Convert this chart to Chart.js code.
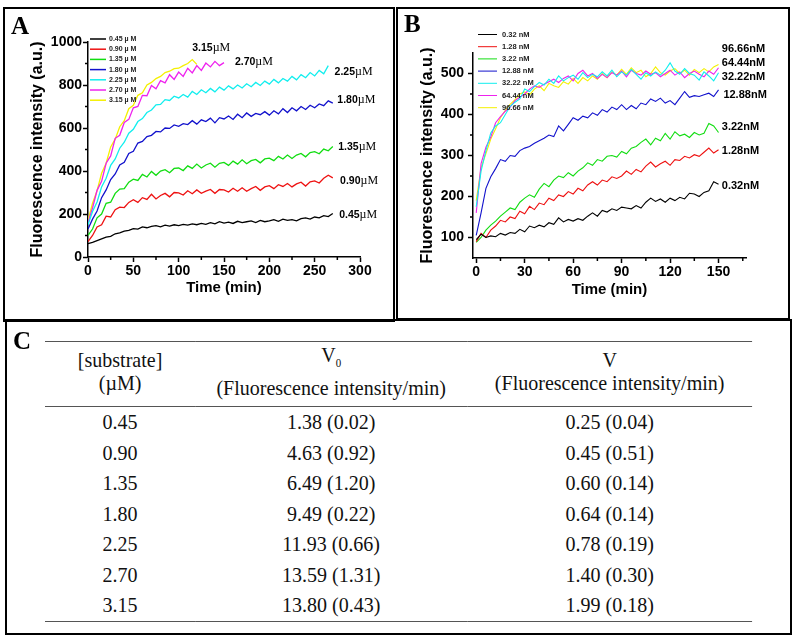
<!DOCTYPE html>
<html>
<head>
<meta charset="utf-8">
<script src="https://cdn.jsdelivr.net/npm/chart.js@4.4.1/dist/chart.umd.min.js"></script>
<style>
body { margin: 0; background: #fff; width: 794px; height: 639px; position: relative; overflow: hidden; font-family: 'Liberation Serif', 'Times New Roman', serif; }
.box { position: absolute; border: 2px solid #000; box-sizing: border-box; }
#boxA { left: 3px; top: 7px; width: 392px; height: 315px; }
#boxB { left: 396px; top: 7px; width: 394px; height: 313px; }
#boxC { left: 5px; top: 319px; width: 787px; height: 316px; }
.tag { position: absolute; font: bold 25px 'Liberation Serif', serif; line-height: 25px; }
canvas { position: absolute; }
#chartA { left: 5px; top: 10px; }
#chartB { left: 399px; top: 10px; }
#tbl { position: absolute; left: 45px; top: 341px; width: 777px; transform: scaleX(0.91); transform-origin: 0 0;
       border-collapse: collapse; font-size: 22px; color: #111;
       border-top: 1.5px solid #555; border-bottom: 1.5px solid #555; }
#tbl th { font-weight: normal; height: 64px; padding: 0; line-height: 23px; border-bottom: 1.5px solid #555; vertical-align: middle; }
#tbl th div { position: relative; top: -3px; }
#tbl td { height: 30.5px; padding: 0; line-height: 30.5px; text-align: center; }
#tbl sub { font-size: 12px; }
</style>
</head>
<body>
<div class="box" id="boxA"></div>
<div class="box" id="boxB"></div>
<div class="box" id="boxC"></div>
<canvas id="chartA" width="388" height="308"></canvas>
<canvas id="chartB" width="389" height="308"></canvas>
<div class="tag" style="left:11px; top:13px;">A</div>
<div class="tag" style="left:404px; top:11px;">B</div>
<div class="tag" style="left:13px; top:328px;">C</div>

<table id="tbl">
  <colgroup><col style="width:165px"><col style="width:299px"><col></colgroup>
  <thead>
    <tr>
      <th><div>[substrate]<br>(µM)</div></th>
      <th><div>V<sub>0</sub><br>(Fluorescence intensity/min)</div></th>
      <th><div>V<br>(Fluorescence intensity/min)</div></th>
    </tr>
  </thead>
  <tbody id="tbody"></tbody>
</table>

<script>
// ---- Panel A : substrate series (µM) ----
var timeA = [0,5,10,15,20,25,30,35,40,45,50,55,60,65,70,75,80,85,90,95,100,105,110,115,120,125,130,135,140,145,150,155,160,165,170,175,180,185,190,195,200,205,210,215,220,225,230,235,240,245,250,255,260,265,270];
var namesA = ['0.45', '0.90', '1.35', '1.80', '2.25', '2.70', '3.15'];
var a045 = [62,68,76,84,92,96,108,112,120,124,132,130,140,136,142,146,140,148,144,150,146,152,148,154,150,156,152,160,154,164,158,162,156,166,160,164,168,160,170,164,168,174,166,176,170,174,168,178,182,176,186,182,192,188,202];
var a090 = [72,100,140,150,190,186,220,232,230,254,266,254,276,268,292,270,286,296,280,300,298,288,308,294,312,296,306,314,296,314,312,302,320,306,322,306,318,328,310,326,332,318,336,328,342,326,340,348,330,350,354,344,366,380,368];
var a135 = [100,130,182,200,250,255,296,316,318,348,362,356,384,372,398,380,400,406,392,412,414,402,424,412,432,414,428,436,418,436,440,426,446,432,452,434,448,454,438,456,460,448,468,456,474,458,474,482,466,486,490,480,502,494,514];
var a180 = [130,176,214,276,312,360,386,428,440,482,492,530,538,560,566,584,582,600,598,614,608,620,616,634,618,638,630,646,624,648,642,656,640,664,648,670,654,668,662,676,660,680,666,690,672,694,680,700,686,706,694,712,704,726,716];
var a225 = [150,212,256,326,366,426,456,506,534,576,594,630,644,672,684,708,710,732,728,748,740,756,744,770,756,778,764,784,768,790,776,796,782,800,786,806,792,812,798,818,804,826,810,830,818,840,824,848,834,858,842,868,852,890];
var a270 = [160,228,310,352,436,470,552,566,626,640,694,700,752,750,798,782,820,810,848,826,860,840,878,856,890,868,902,884,910,890,904];
var a315 = [170,250,308,390,436,512,548,606,634,690,706,752,764,800,812,830,840,858,864,876,878,890,900,918,896];
var xTicksA = [0, 50, 100, 150, 200, 250, 300];
var yTicksA = [0, 200, 400, 600, 800, 1000];

// ---- Panel B : enzyme series (nM) ----
var timeB = [0,3,6,9,12,15,18,21,24,27,30,33,36,39,42,45,48,51,54,57,60,63,66,69,72,75,78,81,84,87,90,93,96,99,102,105,108,111,114,117,120,123,126,129,132,135,138,141,144,147,150];
var namesB = ['0.32', '1.28', '3.22', '12.88', '32.22', '64.44', '96.66'];
var b032 = [95,108,100,104,102,110,106,112,110,120,114,128,124,130,126,136,132,148,138,144,140,146,142,152,160,152,166,162,170,166,174,172,170,178,172,186,196,188,194,186,196,190,198,194,208,206,200,210,214,236,230];
var b128 = [90,110,100,118,128,142,138,150,146,164,158,176,168,184,180,196,190,204,200,212,206,220,214,228,236,228,240,236,248,244,250,262,254,266,260,274,284,272,280,286,276,290,288,298,294,302,298,308,318,306,314];
var b322 = [88,100,118,130,140,152,162,172,168,186,196,204,198,218,232,224,240,250,246,258,250,262,270,282,276,290,286,298,300,296,310,304,318,322,332,340,326,342,336,354,340,358,348,352,344,356,350,354,378,372,356];
var b1288 = [105,160,220,248,268,290,286,300,298,312,318,322,330,336,342,350,346,372,360,376,392,386,396,392,404,398,412,406,418,412,424,412,422,414,428,424,438,432,440,428,434,424,440,456,442,446,444,448,452,444,460];
var b3222 = [175,262,312,355,372,380,400,420,430,438,462,456,468,478,472,486,476,494,482,490,496,486,502,490,498,492,504,494,508,492,504,496,510,498,486,502,494,504,496,508,526,506,498,512,500,496,484,504,494,482,502];
var b6444 = [160,280,320,345,380,395,408,418,434,442,450,462,470,466,474,480,486,478,488,494,482,500,508,494,500,488,498,490,502,496,506,492,508,500,496,506,498,502,492,500,508,496,504,490,500,506,498,492,506,498,514];
var b9666 = [190,270,305,340,365,392,410,425,436,450,455,448,462,470,458,476,470,466,480,474,488,476,490,482,494,486,500,490,504,496,510,498,514,502,508,492,500,516,502,496,506,512,500,508,496,510,502,512,504,516,522];
var xTicksB = [0, 30, 60, 90, 120, 150];
var yTicksB = [100, 200, 300, 400, 500];

// ---- Panel C : kinetics table ----
var substrateC = [0.45, 0.90, 1.35, 1.80, 2.25, 2.70, 3.15];
var v0Mean = [1.38, 4.63, 6.49, 9.49, 11.93, 13.59, 13.80];
var v0Sd = [0.02, 0.92, 1.20, 0.22, 0.66, 1.31, 0.43];
var vMean = [0.25, 0.45, 0.60, 0.64, 0.78, 1.40, 1.99];
var vSd = [0.04, 0.51, 0.14, 0.14, 0.19, 0.30, 0.18];

var colors = ['#000000', '#ee1111', '#11dd11', '#1111cc', '#11eeee', '#ee22ee', '#f4f000'];

Chart.defaults.font.family = '"Liberation Sans", Arial, sans-serif';
Chart.defaults.color = '#000';

function makeSets(times, series, names, lw) {
    return series.map(function (vals, i) {
        return {
            label: names[i],
            data: vals.map(function (v, j) { return { x: times[j], y: v }; }),
            borderColor: colors[i],
            borderWidth: lw,
            pointRadius: 0,
            tension: 0,
            fill: false
        };
    });
}

// minor ticks (Chart.js has none of its own)
var minorTicks = {
    id: 'minorTicks',
    afterDraw: function (chart, args, o) {
        var ctx = chart.ctx, a = chart.chartArea;
        ctx.save();
        ctx.strokeStyle = '#000';
        ctx.lineWidth = 1.5;
        ctx.beginPath();
        o.x.forEach(function (v) {
            var p = chart.scales.x.getPixelForValue(v);
            ctx.moveTo(p, a.bottom); ctx.lineTo(p, a.bottom + 3);
        });
        o.y.forEach(function (v) {
            var p = chart.scales.y.getPixelForValue(v);
            ctx.moveTo(a.left, p); ctx.lineTo(a.left - 3, p);
        });
        ctx.stroke();
        ctx.restore();
    }
};

// small legend drawn inside the plot
var insideLegend = {
    id: 'insideLegend',
    afterDraw: function (chart, args, o) {
        var ctx = chart.ctx;
        ctx.save();
        ctx.font = 'bold ' + o.size + 'px "Liberation Sans"';
        ctx.textBaseline = 'middle';
        chart.data.datasets.forEach(function (ds, i) {
            var y = o.top + i * o.step;
            ctx.strokeStyle = ds.borderColor;
            ctx.lineWidth = o.lw;
            ctx.beginPath(); ctx.moveTo(o.left, y); ctx.lineTo(o.left + o.len, y); ctx.stroke();
            ctx.fillStyle = '#222';
            ctx.fillText(ds.label + o.unit, o.left + o.len + o.gap, y);
        });
        ctx.restore();
    }
};

// curve-end labels, placed in data coordinates
var endLabels = {
    id: 'endLabels',
    afterDraw: function (chart, args, o) {
        var ctx = chart.ctx;
        ctx.save();
        ctx.textBaseline = 'middle';
        ctx.fillStyle = '#000';
        o.items.forEach(function (it) {
            var px = chart.scales.x.getPixelForValue(it.x);
            var py = chart.scales.y.getPixelForValue(it.y);
            ctx.font = 'bold ' + o.size + 'px "Liberation Sans"';
            ctx.fillText(it.text, px, py);
            if (o.unitFont) {
                px += ctx.measureText(it.text).width;
                ctx.font = o.unitFont;
                ctx.fillText(o.unit, px, py);
            }
        });
        ctx.restore();
    }
};

function axis(min, max, ticks, fit, tickPad, title, titleSize, titlePad) {
    return {
        type: 'linear',
        min: min,
        max: max,
        afterBuildTicks: function (s) { s.ticks = ticks.map(function (v) { return { value: v }; }); },
        afterFit: fit,
        ticks: {
            autoSkip: false, maxRotation: 0, padding: tickPad,
            font: { size: 14, weight: 'bold' }, color: '#000',
            callback: function (v) { return String(v); }
        },
        grid: { drawOnChartArea: false, drawTicks: true, tickLength: 5, tickWidth: 1.5, tickColor: '#000' },
        border: { display: true, color: '#000', width: 1.5 },
        title: { display: true, text: title, color: '#000', font: { size: titleSize, weight: 'bold' }, padding: titlePad }
    };
}

// Panel A
var labPosA = [[277, 195], [278, 353], [276, 512], [275, 730], [272, 861], [162, 908], [115, 973]];
new Chart(document.getElementById('chartA'), {
    type: 'line',
    data: { datasets: makeSets(timeA, [a045, a090, a135, a180, a225, a270, a315], namesA, 1.3) },
    options: {
        responsive: false,
        animation: false,
        layout: { padding: { left: 0, top: 32, right: 33, bottom: 0 } },
        plugins: {
            legend: { display: false },
            tooltip: { enabled: false },
            minorTicks: { x: [25, 75, 125, 175, 225, 275], y: [100, 300, 500, 700, 900] },
            insideLegend: { left: 85, top: 29, step: 10.2, len: 16, gap: 3, lw: 1.5, size: 7, unit: ' µ M' },
            endLabels: {
                size: 10.5, unit: 'µM', unitFont: '12px "Liberation Serif"',
                items: namesA.map(function (n, i) { return { text: n, x: labPosA[i][0], y: labPosA[i][1] }; })
            }
        },
        scales: {
            x: axis(0, 300, xTicksA, function (s) { s.height = 61; }, 1, 'Time (min)', 15, { top: 0, bottom: 21 }),
            y: axis(0, 1000, yTicksA, function (s) { s.width = 83; }, 1, 'Fluorescence intensity (a.u.)', 16, { top: 23, bottom: 0 })
        }
    },
    plugins: [minorTicks, insideLegend, endLabels]
});

// Panel B
var labPosB = [[152, 226], [152, 310], [152, 370], [153, 447], [152, 492], [152, 526], [152, 561]];
new Chart(document.getElementById('chartB'), {
    type: 'line',
    data: { datasets: makeSets(timeB, [b032, b128, b322, b1288, b3222, b6444, b9666], namesB, 1.1) },
    options: {
        responsive: false,
        animation: false,
        layout: { padding: { left: 0, top: 43, right: 42, bottom: 0 } },
        plugins: {
            legend: { display: false },
            tooltip: { enabled: false },
            minorTicks: { x: [15, 45, 75, 105, 135, 165], y: [150, 250, 350, 450] },
            insideLegend: { left: 79, top: 24.5, step: 12.2, len: 19, gap: 5, lw: 1, size: 7.5, unit: ' nM' },
            endLabels: {
                size: 11,
                items: namesB.map(function (n, i) { return { text: n + 'nM', x: labPosB[i][0], y: labPosB[i][1] }; })
            }
        },
        scales: {
            x: axis(-2, 167, xTicksB, function (s) { s.height = 60; }, 1, 'Time (min)', 15, { top: 0, bottom: 19 }),
            y: axis(50, 550, yTicksB, function (s) { s.width = 74; }, 4, 'Fluorescence intensity (a.u.)', 16, { top: 19, bottom: 0 })
        }
    },
    plugins: [minorTicks, insideLegend, endLabels]
});

// Table C
var rows = '';
for (var i = 0; i < substrateC.length; i++) {
    rows += '<tr>' +
        '<td>' + substrateC[i].toFixed(2) + '</td>' +
        '<td>' + v0Mean[i].toFixed(2) + ' (' + v0Sd[i].toFixed(2) + ')</td>' +
        '<td>' + vMean[i].toFixed(2) + ' (' + vSd[i].toFixed(2) + ')</td>' +
        '</tr>';
}
document.getElementById('tbody').innerHTML = rows;
</script>
</body>
</html>
